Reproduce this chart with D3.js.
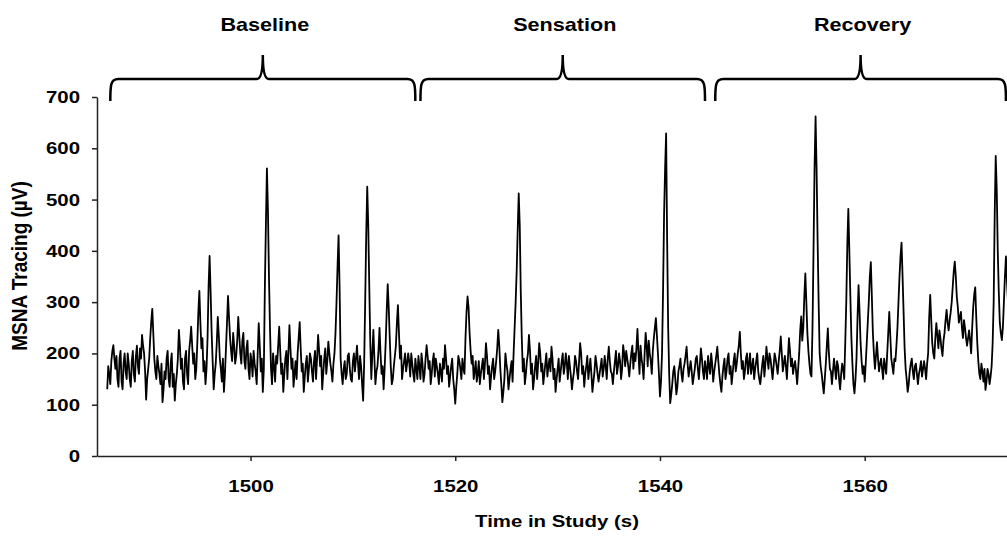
<!DOCTYPE html>
<html>
<head>
<meta charset="utf-8">
<script src="https://cdn.jsdelivr.net/npm/d3@7"></script>
<style>
    body { margin: 0; background: #fff; }
    text { font-family: Arial, "Liberation Sans", sans-serif; font-weight: bold; fill: #000; }
</style>
</head>
<body>
<div id="chart"></div>
<script>
// Phases shown with braces above the trace
const phaseNames = ["Baseline", "Sensation", "Recovery"];
const phaseStart = [1486.3, 1516.6, 1545.4];
const phaseEnd = [1516.1, 1544.4, 1573.8];

// Axis ticks
const xTicks = [1500, 1520, 1540, 1560];
const yTicks = [0, 100, 200, 300, 400, 500, 600, 700];

// MSNA trace, one value every 0.1 s starting at 1486.0 s
const traceStart = 1486.0;
const traceStep = 0.1;
const msna = [
    130, 175, 160, 140, 185, 205, 216, 190, 170, 195, 150, 135, 190, 205, 145, 130, 180, 200, 165, 150,
    200, 180, 150, 135, 185, 205, 160, 145, 195, 215, 175, 160, 210, 190, 236, 215, 200, 165, 110, 150,
    170, 190, 230, 262, 287, 240, 190, 165, 150, 195, 175, 160, 140, 180, 105, 130, 165, 150, 190, 205,
    150, 135, 180, 200, 135, 160, 108, 140, 160, 190, 246, 215, 170, 190, 145, 130, 190, 205, 160, 140,
    205, 225, 252, 215, 180, 200, 150, 170, 220, 280, 322, 260, 210, 230, 165, 185, 140, 170, 230, 330,
    390, 320, 240, 185, 130, 160, 180, 220, 271, 235, 190, 170, 145, 190, 125, 160, 210, 260, 312, 270,
    230, 205, 185, 240, 215, 180, 195, 225, 271, 235, 200, 180, 225, 240, 185, 170, 210, 225, 170, 150,
    200, 185, 155, 205, 180, 165, 140, 200, 259, 215, 165, 190, 125, 170, 330, 450, 561, 480, 350, 250,
    170, 140, 200, 175, 145, 195, 180, 215, 252, 205, 160, 180, 125, 160, 190, 205, 150, 200, 255, 210,
    170, 190, 135, 160, 185, 150, 200, 230, 261, 210, 165, 180, 125, 155, 180, 195, 145, 170, 200, 190,
    165, 145, 185, 205, 150, 190, 236, 205, 175, 195, 130, 160, 190, 210, 160, 185, 223, 200, 180, 165,
    145, 180, 200, 240, 300, 370, 430, 330, 190, 160, 140, 170, 185, 150, 160, 195, 200, 170, 150, 145,
    185, 200, 165, 190, 215, 180, 150, 195, 175, 140, 108, 180, 300, 430, 525, 450, 330, 220, 150, 200,
    246, 190, 140, 165, 175, 205, 250, 200, 160, 175, 130, 170, 220, 280, 335, 290, 230, 175, 140, 150,
    175, 195, 215, 260, 294, 240, 190, 215, 150, 170, 185, 200, 165, 180, 200, 185, 155, 200, 180, 160,
    145, 190, 170, 150, 195, 175, 150, 200, 180, 145, 160, 190, 216, 195, 170, 185, 140, 160, 185, 200,
    155, 190, 175, 160, 140, 180, 165, 145, 190, 170, 216, 190, 160, 175, 135, 155, 175, 190, 150, 130,
    102, 135, 160, 195, 185, 170, 150, 190, 170, 160, 230, 280, 311, 290, 240, 205, 180, 195, 150, 165,
    185, 145, 160, 185, 140, 160, 175, 190, 150, 180, 220, 195, 160, 175, 130, 155, 175, 190, 150, 165,
    185, 210, 246, 215, 170, 140, 105, 125, 150, 200, 180, 165, 130, 150, 170, 185, 145, 200, 250, 300,
    360, 440, 512, 450, 320, 230, 165, 190, 140, 160, 185, 200, 236, 205, 160, 180, 130, 150, 175, 195,
    150, 180, 220, 200, 165, 180, 140, 160, 180, 200, 155, 175, 190, 165, 213, 190, 150, 170, 125, 150,
    170, 190, 145, 165, 185, 200, 160, 175, 200, 180, 150, 195, 175, 155, 130, 150, 165, 195, 185, 165,
    150, 185, 220, 200, 160, 175, 135, 160, 175, 195, 150, 170, 190, 160, 125, 145, 165, 195, 180, 160,
    145, 160, 175, 190, 155, 170, 195, 175, 150, 190, 213, 185, 165, 160, 140, 165, 185, 205, 160, 175,
    200, 185, 150, 170, 216, 200, 175, 205, 190, 175, 155, 180, 200, 215, 170, 200, 185, 210, 248, 200,
    160, 215, 190, 175, 150, 200, 240, 215, 175, 225, 200, 185, 160, 205, 230, 250, 269, 235, 200, 160,
    116, 145, 200, 320, 470, 560, 629, 420, 250, 160, 103, 120, 140, 165, 175, 150, 120, 135, 165, 175,
    190, 160, 145, 170, 180, 195, 213, 180, 155, 170, 185, 165, 140, 155, 170, 190, 195, 170, 150, 180,
    210, 190, 165, 150, 185, 170, 150, 195, 175, 160, 200, 180, 145, 165, 180, 195, 213, 185, 160, 140,
    125, 155, 175, 190, 150, 165, 190, 200, 160, 175, 140, 160, 185, 200, 165, 180, 200, 215, 242, 200,
    170, 185, 150, 165, 190, 200, 160, 180, 200, 160, 175, 190, 150, 170, 185, 200, 165, 150, 140, 160,
    180, 195, 155, 180, 213, 190, 170, 200, 190, 170, 150, 175, 200, 190, 175, 160, 185, 205, 233, 200,
    165, 180, 195, 175, 150, 190, 230, 205, 175, 190, 160, 175, 185, 165, 140, 170, 200, 245, 272, 225,
    250, 310, 356, 300, 240, 205, 180, 160, 155, 250, 400, 560, 662, 560, 420, 300, 200, 175, 160, 140,
    122, 150, 180, 215, 249, 200, 170, 165, 140, 165, 190, 170, 150, 185, 175, 150, 130, 160, 180, 170,
    150, 220, 300, 410, 482, 400, 310, 230, 180, 140, 122, 150, 190, 270, 333, 280, 220, 185, 160, 175,
    145, 180, 220, 260, 300, 350, 378, 310, 240, 200, 170, 195, 222, 190, 165, 180, 190, 170, 150, 190,
    175, 160, 200, 240, 281, 235, 190, 175, 160, 190, 185, 215, 250, 300, 350, 390, 416, 350, 280, 210,
    170, 150, 125, 140, 165, 180, 190, 165, 150, 175, 180, 160, 140, 160, 170, 185, 155, 170, 185, 170,
    150, 180, 200, 270, 314, 265, 220, 200, 190, 230, 259, 235, 210, 245, 230, 210, 195, 225, 240, 265,
    285, 260, 245, 265, 280, 300, 330, 360, 379, 350, 310, 290, 260, 270, 281, 250, 230, 265, 250, 230,
    215, 230, 245, 225, 200, 250, 290, 315, 329, 270, 220, 185, 160, 150, 180, 165, 145, 170, 129, 145,
    170, 160, 140, 155, 175, 220, 300, 470, 585, 520, 400, 320, 260, 240, 226, 250, 300, 350, 389, 340,
    300
];

const width = 1007;
const height = 539;
const sx = 1.2; // text in the picture is stretched horizontally

const svg = d3.select("#chart")
    .append("svg")
    .attr("width", width)
    .attr("height", height);

svg.append("rect")
    .attr("width", width)
    .attr("height", height)
    .attr("fill", "#fff");

// Scales
const x = d3.scaleLinear()
    .domain([1485, 1574])
    .range([97, 1008]);

const y = d3.scaleLinear()
    .domain([0, 700])
    .range([456, 97]);

// Axes
const xAxis = svg.append("g")
    .attr("transform", `translate(0,${y(0)})`)
    .call(d3.axisBottom(x).tickValues(xTicks).tickSize(5).tickSizeOuter(0).tickFormat(d3.format("d")));

xAxis.selectAll("text")
    .attr("y", 36)
    .attr("dy", null)
    .attr("transform", `scale(${sx},1)`)
    .style("font-size", "17px");

const yAxis = svg.append("g")
    .attr("transform", `translate(${x(1485)},0)`)
    .call(d3.axisLeft(y).tickValues(yTicks).tickSize(5).tickSizeOuter(0));

yAxis.selectAll("text")
    .attr("x", -17 / sx)
    .attr("transform", `scale(${sx},1)`)
    .style("font-size", "17px");

svg.selectAll(".domain, .tick line")
    .attr("stroke", "#222")
    .attr("stroke-width", 1.5);
svg.selectAll(".tick text").attr("fill", "#000");

// Axis labels
svg.append("text")
    .attr("text-anchor", "middle")
    .attr("transform", `translate(557,527) scale(${sx},1)`)
    .style("font-size", "17px")
    .text("Time in Study (s)");

svg.append("text")
    .attr("text-anchor", "middle")
    .attr("transform", `translate(27,266) rotate(-90) scale(1,1.15)`)
    .style("font-size", "19px")
    .text("MSNA Tracing (µV)");

// Trace
const line = d3.line()
    .x((d, i) => x(traceStart + i * traceStep))
    .y(d => y(d));

svg.append("defs").append("clipPath")
    .attr("id", "plot-clip")
    .append("rect")
    .attr("x", 97)
    .attr("y", 0)
    .attr("width", 910)
    .attr("height", 460);

svg.append("path")
    .datum(msna)
    .attr("clip-path", "url(#plot-clip)")
    .attr("d", line)
    .attr("fill", "none")
    .attr("stroke", "#000")
    .attr("stroke-width", 1.8)
    .attr("stroke-linejoin", "round");

// Braces with phase titles
const braceY = 79;
const braceEndY = 101;
const tipY = 55;

phaseNames.forEach((name, i) => {
    const x0 = x(phaseStart[i]);
    const x1 = x(phaseEnd[i]);
    const mid = (x0 + x1) / 2;

    const p = d3.path();
    p.moveTo(x0, braceEndY);
    p.bezierCurveTo(x0, 86, x0, braceY, x0 + 8, braceY);
    p.lineTo(mid - 6, braceY);
    p.bezierCurveTo(mid - 2, braceY, mid, 72, mid, tipY);
    p.bezierCurveTo(mid, 72, mid + 2, braceY, mid + 6, braceY);
    p.lineTo(x1 - 8, braceY);
    p.bezierCurveTo(x1, braceY, x1, 86, x1, braceEndY);

    svg.append("path")
        .attr("d", p.toString())
        .attr("fill", "none")
        .attr("stroke", "#000")
        .attr("stroke-width", 2.5);

    svg.append("text")
        .attr("text-anchor", "middle")
        .attr("transform", `translate(${mid + 2},31) scale(${sx},1)`)
        .style("font-size", "18px")
        .text(name);
});
</script>
</body>
</html>
